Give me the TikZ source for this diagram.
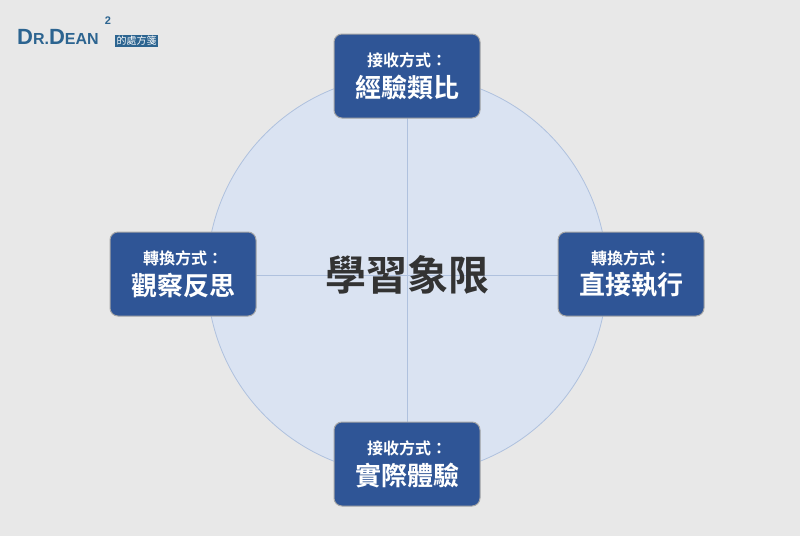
\documentclass[tikz,border=0pt]{standalone}
\usepackage{fontspec}
\newfontfamily\cjk{Noto Sans CJK TC}
\newfontfamily\cjkb{Noto Sans CJK TC Bold}
\setmainfont{Liberation Sans}
\definecolor{bg}{HTML}{E8E8E8}
\definecolor{boxb}{HTML}{2F5596}
\definecolor{circ}{HTML}{DAE3F2}
\definecolor{circd}{HTML}{AFC1DE}
\definecolor{logo}{HTML}{2C6490}
\tikzset{x=1pt,y=-1pt,
 qbox/.style={draw=gray!70,line width=1pt,fill=boxb,rounded corners=8pt,minimum width=146pt,minimum height=84pt,text=white,align=center,inner sep=0pt}}
\newcommand\qtext[2]{{\cjkb\fontsize{16}{18}\selectfont #1}\\[6pt]{\cjkb\fontsize{26}{28}\selectfont #2}}
\begin{document}
\begin{tikzpicture}
\fill[bg] (0,0) rectangle (800,536);
\useasboundingbox (0,0) rectangle (800,536);
\node[circle,draw=circd,fill=circ,line width=0.8pt,minimum size=400pt,inner sep=0pt] (c) at (407,275) {};
\coordinate (ct) at (407,75); \coordinate (cb) at (407,475);
\coordinate (cl) at (207,275); \coordinate (cr) at (607,275);
\draw[circd,line width=0.8pt] (ct) -- (cb) (cl) -- (cr);
\node[text=black!80,font=\cjkb\fontsize{41}{44}\selectfont] (m) at (407,275) {學習象限};
\node[qbox] (t) at (407,76) {\qtext{接收方式：}{經驗類比}};
\node[qbox] (l) at (183,274) {\qtext{轉換方式：}{觀察反思}};
\node[qbox] (r) at (631,274) {\qtext{轉換方式：}{直接執行}};
\node[qbox] (b) at (407,464) {\qtext{接收方式：}{實際體驗}};
\node[anchor=west,text=logo,font=\bfseries\fontsize{22}{22}\selectfont,inner sep=0pt] (lg) at (17,37) {D\fontsize{16}{16}\selectfont R.\fontsize{22}{22}\selectfont D\fontsize{16}{16}\selectfont EAN};
\node[text=logo,font=\bfseries\fontsize{11}{11}\selectfont,inner sep=0pt] (sq) at (108,21) {2};
\node[anchor=west,fill=logo,text=white,font=\cjk\fontsize{10}{11}\selectfont,inner sep=1.5pt] (lb) at (115,41) {的處方箋};
\end{tikzpicture}
\end{document}
